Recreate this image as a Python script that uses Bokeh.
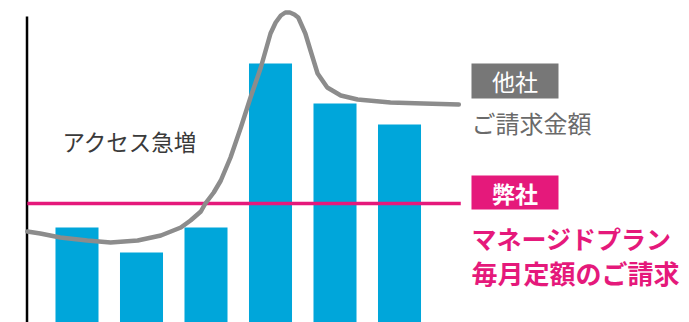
from bokeh.plotting import figure
from bokeh.models import Range1d, Label, BoxAnnotation, ColumnDataSource
from bokeh.embed import file_html
from bokeh.resources import INLINE

# ---- data ----
periods = [1, 2, 3, 4, 5, 6]
monthly_cost = [9.5, 7.0, 9.5, 25.9, 21.9, 19.8]      # blue bars
flat_fee = 11.9                                         # 弊社 flat line
flat_span = [0.23, 6.95]                                # period extent of flat line
other_x = [0.23, 0.43, 0.74, 1.16, 1.52, 1.94, 2.30, 2.61, 2.76, 2.92, 2.99,
           3.12, 3.23, 3.38, 3.54, 3.69, 3.85, 4.00, 4.08, 4.16, 4.23, 4.30,
           4.37, 4.43, 4.54, 4.62, 4.73, 4.88, 5.09, 5.35, 5.86, 6.37, 6.92]
other_y = [9.1, 8.9, 8.5, 8.2, 8.0, 8.2, 8.7, 9.5, 10.2, 11.1, 11.9,
           13.0, 14.2, 16.5, 19.5, 22.5, 25.5, 28.9, 30.0, 30.7, 31.0, 31.0,
           30.8, 30.5, 28.9, 27.2, 24.9, 23.5, 22.7, 22.3, 22.0, 21.9, 21.8]
axis_x = 0.225
axis_top = 30.6

FONT = "Noto Sans CJK JP"
PINK = "#e5197b"
BLUE = "#00a6da"
GRAY = "#8c8c8c"

p = figure(width=689, height=322, output_backend="svg", toolbar_location=None,
           x_range=Range1d(-0.186, 10.496), y_range=Range1d(0.0, 32.2),
           x_axis_location=None, y_axis_location=None, min_border=0,
           outline_line_color=None)
p.grid.visible = False

src = ColumnDataSource(dict(period=periods, cost=monthly_cost))
p.vbar(x="period", top="cost", bottom=0, width=0.667, source=src,
       fill_color=BLUE, line_color=None)

# vertical axis line
p.line(x=[axis_x, axis_x], y=[0, axis_top], line_color="black", line_width=2.5)

# flat fee line
p.line(x=flat_span, y=[flat_fee, flat_fee], line_color=PINK, line_width=3.5)

# other company cost curve
p.line(x=other_x, y=other_y, line_color=GRAY, line_width=4.5,
       line_join="round", line_cap="round")

# annotations
p.add_layout(Label(x=0.775, y=18.2, text="アクセス急増", text_font=FONT,
                   text_font_size="22.5px", text_color="#3a3a3a",
                   text_baseline="middle", text_align="left"))

p.add_layout(BoxAnnotation(left=7.116, right=8.465, top=25.9, bottom=22.4,
                           fill_color="#777777", fill_alpha=1, line_color=None))
p.add_layout(Label(x=7.79, y=24.15, text="他社", text_font=FONT,
                   text_font_size="23px", text_color="white",
                   text_baseline="middle", text_align="center"))
p.add_layout(Label(x=7.116, y=20.0, text="ご請求金額", text_font=FONT,
                   text_font_size="24px", text_color="#6a6a6a",
                   text_baseline="middle", text_align="left"))

p.add_layout(BoxAnnotation(left=7.116, right=8.465, top=14.7, bottom=11.3,
                           fill_color=PINK, fill_alpha=1, line_color=None))
p.add_layout(Label(x=7.79, y=13.0, text="弊社", text_font=FONT,
                   text_font_size="23px", text_font_style="bold",
                   text_color="white",
                   text_baseline="middle", text_align="center"))
p.add_layout(Label(x=7.116, y=8.5, text="マネージドプラン", text_font=FONT,
                   text_font_size="25px", text_font_style="bold",
                   text_color=PINK,
                   text_baseline="middle", text_align="left"))
p.add_layout(Label(x=7.116, y=5.0, text="毎月定額のご請求", text_font=FONT,
                   text_font_size="26px", text_font_style="bold",
                   text_color=PINK,
                   text_baseline="middle", text_align="left"))

open("out.html", "w").write(file_html(p, INLINE))
